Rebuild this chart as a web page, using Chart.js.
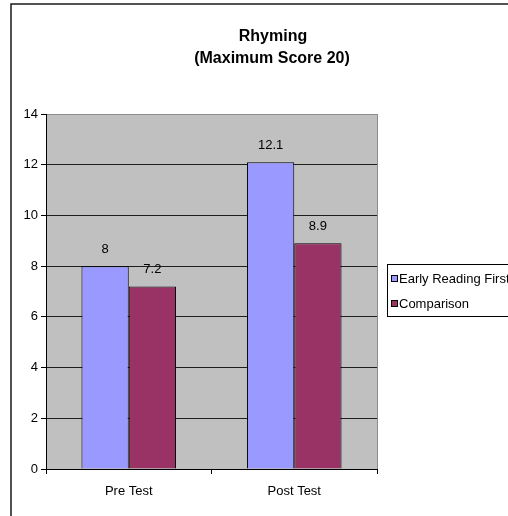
<!DOCTYPE html>
<html>
<head>
<meta charset="utf-8">
<title>Rhyming</title>
<script src="https://cdn.jsdelivr.net/npm/chart.js@4/dist/chart.umd.min.js"></script>
<style>
  html, body { margin: 0; padding: 0; background: #ffffff; }
  canvas { display: block; }
</style>
</head>
<body>
<canvas id="chart" width="508" height="516"></canvas>
<script>
// Rhyming scores, mean per group (maximum score 20)
const categories = ['Pre Test', 'Post Test'];
const earlyReadingFirst = [8, 12.1];
const comparison = [7.2, 8.9];
const seriesNames = ['Early Reading First', 'Comparison'];
const titleLines = ['Rhyming', '(Maximum Score 20)'];
const yTicks = { min: 0, max: 14, step: 2 };

const FONT = "'Liberation Sans', Arial, Helvetica, sans-serif";
const COLORS = ['#9999FF', '#993366'];

// Frame, plot background, title, value labels and legend
const decorations = {
  id: 'decorations',
  beforeDraw(chart) {
    const { ctx, chartArea: a } = chart;
    ctx.save();
    ctx.fillStyle = '#ffffff';
    ctx.fillRect(0, 0, chart.width, chart.height);
    // outer chart frame (runs off the right and bottom edges)
    ctx.strokeStyle = '#1a1a1a';
    ctx.lineWidth = 1.5;
    ctx.strokeRect(11, 4, 700, 700);
    // plot background
    ctx.fillStyle = '#C0C0C0';
    ctx.fillRect(a.left, a.top, a.right - a.left, a.bottom - a.top);
    // plot border
    ctx.strokeStyle = '#8c8c8c';
    ctx.lineWidth = 1;
    ctx.strokeRect(a.left + 0.5, a.top + 0.5, a.right - a.left, a.bottom - a.top);
    ctx.restore();
  },
  afterDatasetsDraw(chart) {
    const { ctx } = chart;
    ctx.save();
    // title
    ctx.fillStyle = '#000000';
    ctx.font = 'bold 16px ' + FONT;
    ctx.textAlign = 'center';
    ctx.textBaseline = 'middle';
    ctx.fillText(titleLines[0], 273, 37);
    ctx.fillText(titleLines[1], 272, 59);

    // value labels above bars
    ctx.font = '13px ' + FONT;
    chart.data.datasets.forEach((ds, di) => {
      const meta = chart.getDatasetMeta(di);
      meta.data.forEach((bar, i) => {
        ctx.fillText(String(ds.data[i]), bar.x, bar.y - 17);
      });
    });

    // legend box
    const lx = 387, ly = 264;
    ctx.fillStyle = '#ffffff';
    ctx.fillRect(lx, ly, 200, 52);
    ctx.strokeStyle = '#000000';
    ctx.lineWidth = 1;
    ctx.strokeRect(lx + 0.5, ly + 0.5, 200, 52);
    ctx.textAlign = 'left';
    ctx.font = '13px ' + FONT;
    chart.data.datasets.forEach((ds, di) => {
      const cy = ly + 14 + di * 25;
      ctx.fillStyle = ds.backgroundColor;
      ctx.fillRect(lx + 4.5, cy - 2.5, 6, 6);
      ctx.strokeStyle = '#000000';
      ctx.strokeRect(lx + 4.5, cy - 2.5, 6, 6);
      ctx.fillStyle = '#000000';
      ctx.fillText(ds.label, lx + 12, cy + 1);
    });
    ctx.restore();
  }
};

new Chart(document.getElementById('chart'), {
  type: 'bar',
  data: {
    labels: categories,
    datasets: [
      { label: seriesNames[0], data: earlyReadingFirst, backgroundColor: COLORS[0] },
      { label: seriesNames[1], data: comparison, backgroundColor: COLORS[1] }
    ]
  },
  options: {
    responsive: false,
    animation: false,
    devicePixelRatio: 1,
    layout: { padding: { top: 114, right: 131, left: 0, bottom: 0 } },
    datasets: {
      bar: {
        borderColor: '#000000',
        borderWidth: 1,
        categoryPercentage: 2 / 3.5,
        barPercentage: 1
      }
    },
    plugins: {
      legend: { display: false },
      title: { display: false },
      tooltip: { enabled: false }
    },
    scales: {
      x: {
        afterFit(scale) { scale.height = 47; },
        grid: {
          offset: true,
          drawOnChartArea: false,
          drawTicks: true,
          tickLength: 5,
          color: '#000000'
        },
        border: { color: '#000000', width: 1 },
        ticks: {
          color: '#000000',
          font: { family: FONT, size: 13 },
          padding: 10
        }
      },
      y: {
        min: yTicks.min,
        max: yTicks.max,
        afterFit(scale) { scale.width = 46; },
        grid: {
          color: (c) => (c.tick && c.tick.value === yTicks.max ? '#8c8c8c' : '#1e1e1e'),
          tickColor: '#000000',
          tickLength: 5
        },
        border: { color: '#000000', width: 1 },
        ticks: {
          stepSize: yTicks.step,
          color: '#000000',
          font: { family: FONT, size: 13 },
          padding: 3
        }
      }
    }
  },
  plugins: [decorations]
});
</script>
</body>
</html>
